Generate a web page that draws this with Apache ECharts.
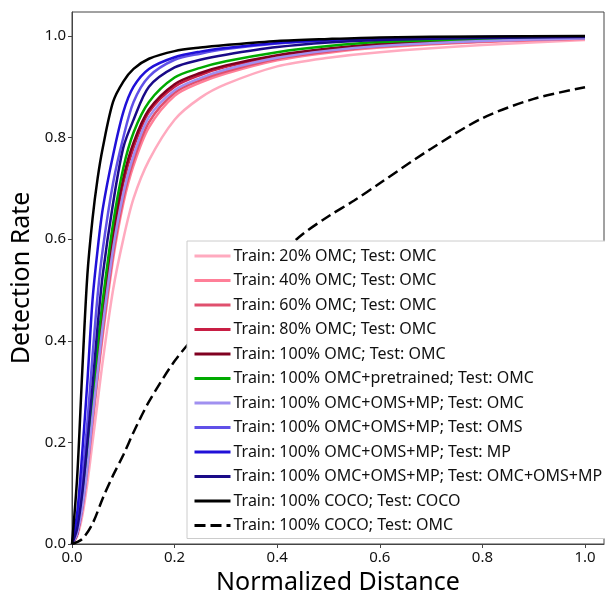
<!DOCTYPE html>
<html>
<head>
<meta charset="utf-8">
<script src="https://cdn.jsdelivr.net/npm/echarts@6/dist/echarts.min.js"></script>
<style>
  html, body { margin: 0; padding: 0; background: #fff; }
  #chart { width: 605px; height: 594px; }
</style>
</head>
<body>
<div id="chart"></div>
<script>
// normalized distance sample points (shared by the solid curves)
var xs = [0, 0.01, 0.02, 0.03, 0.04, 0.05, 0.06, 0.08, 0.1, 0.12, 0.15, 0.2, 0.25, 0.3, 0.4, 0.5, 0.6, 0.8, 1.0];

var omc20   = [0, 0.015, 0.055, 0.12, 0.2, 0.28, 0.36, 0.5, 0.6, 0.68, 0.755, 0.835, 0.878, 0.905, 0.94, 0.957, 0.968, 0.982, 0.992];
var omc40   = [0, 0.018, 0.065, 0.14, 0.235, 0.325, 0.41, 0.56, 0.67, 0.745, 0.82, 0.882, 0.908, 0.926, 0.952, 0.967, 0.977, 0.988, 0.994];
var omc60   = [0, 0.02, 0.07, 0.15, 0.245, 0.335, 0.42, 0.57, 0.68, 0.755, 0.83, 0.888, 0.913, 0.93, 0.955, 0.969, 0.979, 0.989, 0.995];
var omc80   = [0, 0.02, 0.075, 0.16, 0.26, 0.36, 0.45, 0.6, 0.71, 0.78, 0.85, 0.9, 0.923, 0.939, 0.96, 0.973, 0.982, 0.991, 0.996];
var omc100  = [0, 0.02, 0.08, 0.17, 0.27, 0.37, 0.46, 0.61, 0.72, 0.79, 0.855, 0.905, 0.927, 0.942, 0.962, 0.975, 0.984, 0.992, 0.996];
var pretr   = [0, 0.025, 0.09, 0.18, 0.29, 0.39, 0.48, 0.63, 0.74, 0.81, 0.87, 0.918, 0.937, 0.95, 0.968, 0.98, 0.988, 0.994, 0.997];
var allOmc  = [0, 0.02, 0.07, 0.15, 0.25, 0.34, 0.43, 0.58, 0.69, 0.765, 0.84, 0.893, 0.917, 0.934, 0.957, 0.971, 0.98, 0.99, 0.995];
var allOms  = [0, 0.04, 0.13, 0.24, 0.37, 0.49, 0.58, 0.71, 0.8, 0.87, 0.92, 0.953, 0.965, 0.974, 0.985, 0.991, 0.994, 0.998, 0.999];
var allMp   = [0, 0.06, 0.18, 0.32, 0.48, 0.58, 0.66, 0.765, 0.85, 0.9, 0.935, 0.958, 0.969, 0.976, 0.986, 0.992, 0.995, 0.998, 0.999];
var allAll  = [0, 0.03, 0.1, 0.2, 0.31, 0.43, 0.53, 0.67, 0.78, 0.835, 0.9, 0.938, 0.953, 0.963, 0.978, 0.987, 0.992, 0.996, 0.998];
var cocoCoco = [0, 0.13, 0.34, 0.53, 0.64, 0.72, 0.78, 0.87, 0.91, 0.935, 0.955, 0.97, 0.977, 0.982, 0.99, 0.994, 0.997, 0.999, 1.0];

// the dashed curve was read on its own grid
var xsDash   = [0, 0.02, 0.04, 0.06, 0.08, 0.1, 0.12, 0.15, 0.2, 0.25, 0.3, 0.35, 0.4, 0.45, 0.5, 0.55, 0.6, 0.7, 0.8, 0.9, 1.0];
var cocoOmc  = [0, 0.01, 0.04, 0.09, 0.135, 0.175, 0.22, 0.28, 0.36, 0.42, 0.47, 0.52, 0.565, 0.61, 0.645, 0.676, 0.71, 0.778, 0.838, 0.876, 0.899];

var names = [
  'Train: 20% OMC; Test: OMC',
  'Train: 40% OMC; Test: OMC',
  'Train: 60% OMC; Test: OMC',
  'Train: 80% OMC; Test: OMC',
  'Train: 100% OMC; Test: OMC',
  'Train: 100% OMC+pretrained; Test: OMC',
  'Train: 100% OMC+OMS+MP; Test: OMC',
  'Train: 100% OMC+OMS+MP; Test: OMS',
  'Train: 100% OMC+OMS+MP; Test: MP',
  'Train: 100% OMC+OMS+MP; Test: OMC+OMS+MP',
  'Train: 100% COCO; Test: COCO',
  'Train: 100% COCO; Test: OMC'
];
var colors = ['#ffaabf', '#ff7f98', '#e0506e', '#c81e44', '#800020', '#00aa00',
              '#a090f0', '#6050e8', '#2010d8', '#1a0a88', '#000000', '#000000'];
var curves = [omc20, omc40, omc60, omc80, omc100, pretr, allOmc, allOms, allMp, allAll, cocoCoco, cocoOmc];

function pairs(x, y) {
  return y.map(function (v, i) { return [x[i], v]; });
}

var series = curves.map(function (c, i) {
  var dashed = i === 11;
  return {
    name: names[i],
    type: 'line',
    data: pairs(dashed ? xsDash : xs, c),
    smooth: 0.3,
    symbol: 'none',
    lineStyle: { color: colors[i], width: 2.5, type: dashed ? [11, 5] : 'solid' },
    itemStyle: { color: colors[i] }
  };
});

var font = 'Noto Sans';
var chart = echarts.init(document.getElementById('chart'));
chart.setOption({
  animation: false,
  textStyle: { fontFamily: font },
  grid: { left: 72, right: 1, top: 12, bottom: 50, outerBoundsMode: 'none',
    show: true, borderColor: '#444', borderWidth: 1 },
  legend: {
    orient: 'vertical',
    left: 187, top: 241,
    data: names,
    itemWidth: 36, itemHeight: 14, itemGap: 8.5,
    padding: [7, 6, 5, 6],
    backgroundColor: '#fff',
    borderColor: '#ccc', borderWidth: 1, borderRadius: 0,
    itemStyle: { opacity: 0, borderWidth: 0 },
    lineStyle: { width: 3 },
    textStyle: { fontFamily: font, fontSize: 16, color: '#111', padding: [0, 0, 0, -2] }
  },
  xAxis: {
    type: 'value', min: 0, max: 1.037, interval: 0.2,
    name: 'Normalized Distance', nameLocation: 'middle', nameGap: 22,
    nameTextStyle: { fontFamily: font, fontSize: 25, color: '#000' },
    axisLine: { lineStyle: { color: '#444' } },
    axisTick: { length: 4, lineStyle: { color: '#444' } },
    axisLabel: { showMaxLabel: false, fontSize: 15, color: '#111', margin: 6,
      formatter: function (v) { return v.toFixed(1); } },
    splitLine: { show: false }
  },
  yAxis: {
    type: 'value', min: 0, max: 1.047, interval: 0.2,
    name: 'Detection Rate', nameLocation: 'middle', nameGap: 35,
    nameTextStyle: { fontFamily: font, fontSize: 25, color: '#000' },
    axisLine: { show: true, lineStyle: { color: '#444' } },
    axisTick: { show: true, length: 4, lineStyle: { color: '#444' } },
    axisLabel: { showMaxLabel: false, fontSize: 15, color: '#111', margin: 6,
      formatter: function (v) { return v.toFixed(1); } },
    splitLine: { show: false }
  },
  series: series
});
</script>
</body>
</html>
